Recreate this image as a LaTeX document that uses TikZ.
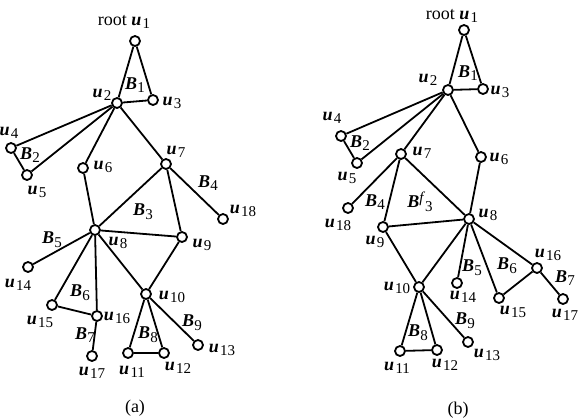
\documentclass[tikz,border=0pt]{standalone}
\usepackage{fontspec}
\setmainfont{Liberation Serif}
\usetikzlibrary{positioning}

\newcommand{\ulab}[1]{\textbf{\textit{u}}\kern0.08em\raisebox{-0.45ex}{\fontsize{7.5}{8}\selectfont #1}}
\newcommand{\blab}[1]{\textbf{\textit{B}}\raisebox{-0.45ex}{\fontsize{7.5}{8}\selectfont #1}}

\begin{document}
\begin{tikzpicture}[
        x=0.5pt, y=-0.5pt,
        line width=0.9pt,
        vtx/.style={circle, draw, fill=white, inner sep=0pt, minimum size=5pt},
        lbl/.style={inner sep=0pt, font=\fontsize{9}{10}\selectfont},
    ]
        \useasboundingbox (0,0) rectangle (585,419);

        % Vertices (a)
        \foreach \n/\x/\y in {1/135/41, 2/117/103, 3/153/100, 4/11/148, 5/27/175,
            6/83/168, 7/166/164, 8/95/230, 9/182/237, 10/146/294, 11/128/353,
            12/164/353, 13/198/345, 14/28/267, 15/52/305, 16/97/316, 17/92/356, 18/223/219}
            \node[vtx] (a\n) at (\x,\y) {};

        % Edges (a)
        \foreach \s/\t in {1/2, 1/3, 2/3, 2/4, 2/5, 4/5, 2/6, 2/7, 6/8, 7/8, 7/9, 8/9,
            7/18, 8/14, 8/15, 8/16, 15/16, 16/17, 8/10, 9/10, 10/11, 10/12, 11/12, 10/13}
            \draw (a\s) -- (a\t);

        % Labels (a)
        \node[lbl] (laroot) at (124,22) {root \ulab{1}};
        \foreach \n/\x/\y in {2/102/95, 3/172/103, 4/9/133, 5/37/192, 6/103/167,
            7/176/152, 8/118/243, 9/202/245, 10/172/297, 11/132/372, 12/178/368,
            13/222/350, 14/18/285, 15/40/322, 16/117/318, 17/92/373, 18/243/211}
            \node[lbl] (lau\n) at (\x,\y) {\ulab{\n}};
        \foreach \n/\x/\y in {1/135/85, 2/30/155, 3/143/212, 4/208/183, 5/52/240,
            6/80/293, 7/85/335, 8/148/335, 9/192/323}
            \node[lbl] (lab\n) at (\x,\y) {\blab{\n}};
        \node[lbl] (capa) at (135,408) {(a)};

        % Vertices (b)
        \foreach \n/\x/\y in {1/464/30, 2/448/90, 3/483/89, 4/341/136, 5/357/163,
            6/481/157, 7/401/154, 8/469/219, 9/383/227, 10/419/287, 11/400/351,
            12/437/350, 13/468/342, 14/457/283, 15/499/298, 16/537/268, 17/563/299, 18/348/208}
            \node[vtx] (b\n) at (\x,\y) {};

        % Edges (b)
        \foreach \s/\t in {1/2, 1/3, 2/3, 2/4, 2/5, 4/5, 2/7, 2/6, 6/8, 7/18, 7/9, 7/8,
            9/8, 9/10, 8/10, 8/14, 8/15, 8/16, 15/16, 16/17, 10/11, 10/12, 11/12, 10/13}
            \draw (b\s) -- (b\t);

        % Labels (b)
        \node[lbl] (lbroot) at (452,16) {root \ulab{1}};
        \foreach \n/\x/\y in {2/428/80, 3/500/92, 4/332/118, 5/347/178, 6/499/159,
            7/422/153, 8/488/215, 9/375/242, 10/397/288, 11/397/368, 12/445/365,
            13/487/355, 14/463/297, 15/513/312, 16/548/255, 17/565/315, 18/338/225}
            \node[lbl] (lbu\n) at (\x,\y) {\ulab{\n}};
        \foreach \n/\x/\y in {1/468/73, 2/360/143, 4/375/202, 5/472/268,
            6/507/266, 7/565/278, 8/418/333, 9/465/321}
            \node[lbl] (lbb\n) at (\x,\y) {\blab{\n}};
        \node[lbl] (lbb3) at (420,202) {\textbf{\textit{B}}\raisebox{0.6ex}{\fontsize{7.5}{8}\selectfont\textit{f}}\raisebox{-0.45ex}{\fontsize{7.5}{8}\selectfont 3}};
        \node[lbl] (capb) at (458,410) {(b)};
\end{tikzpicture}
\end{document}
